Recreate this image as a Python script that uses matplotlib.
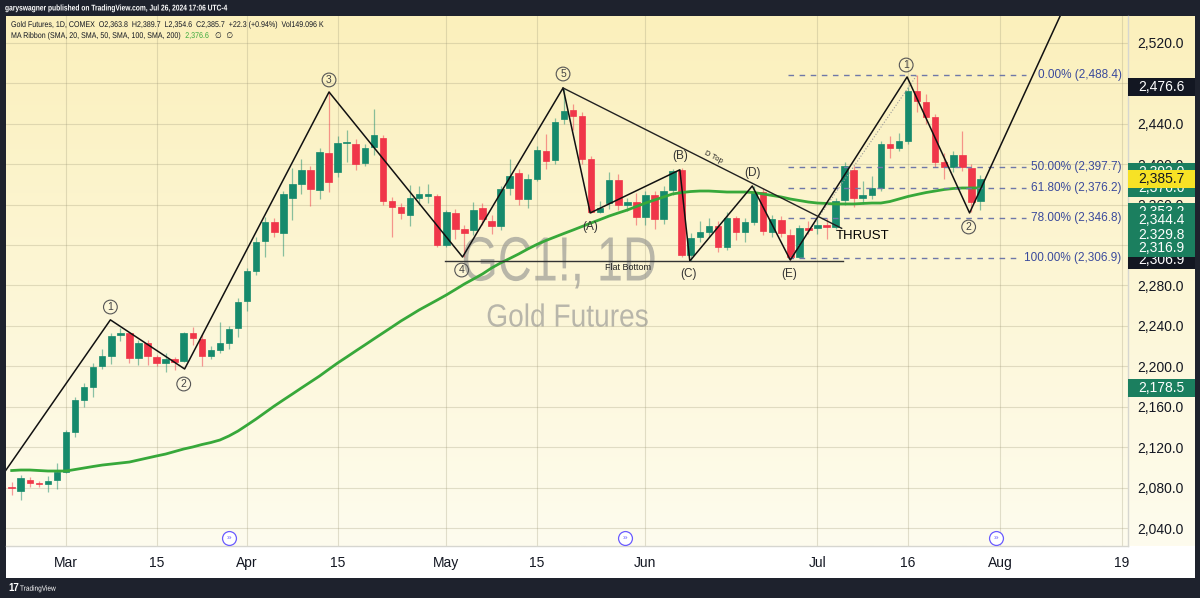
import numpy as np
import pandas as pd
import matplotlib
matplotlib.use("Agg")
import matplotlib.pyplot as plt
import matplotlib.transforms as mtransforms
from matplotlib.patches import Rectangle, PathPatch
from matplotlib.textpath import TextPath
from matplotlib.font_manager import FontProperties

plt.rcParams['font.family'] = ['Liberation Sans', 'DejaVu Sans']

# trading days of the front month contract, Feb 22 .. Jul 26 2024
holidays = ['2024-03-29', '2024-05-27', '2024-06-19', '2024-07-04']
days = pd.bdate_range('2024-02-22', '2024-07-26')
days = days[~days.isin(pd.to_datetime(holidays))]

opens = [2080.5, 2077.0, 2087.2, 2085.0, 2083.5, 2087.5,
         2095.7, 2135.3, 2166.7, 2179.2, 2200.3, 2210.5, 2231.3, 2232.7, 2207.9, 2222.8,
         2208.9, 2203.6, 2207.3, 2205.3, 2233.3, 2226.7, 2210.5, 2216.6, 2222.7, 2237.7,
         2265.0, 2294.7, 2324.0, 2342.5, 2331.7, 2366.3, 2380.4, 2394.3, 2374.5, 2411.4,
         2392.0, 2421.0, 2420.0, 2400.9, 2416.7, 2425.7, 2364.0, 2357.4, 2349.8, 2367.0,
         2369.0, 2368.9, 2320.4, 2352.0, 2335.6, 2334.9, 2357.0, 2343.8, 2338.9, 2376.8,
         2391.0, 2365.3, 2385.4, 2413.4, 2404.2, 2444.8, 2453.7, 2447.8, 2405.3, 2353.0,
         2361.3, 2384.4, 2360.0, 2362.6, 2347.5, 2369.6, 2345.5, 2374.5, 2394.3, 2310.2,
         2328.3, 2333.3, 2339.2, 2318.4, 2347.1, 2332.7, 2343.2, 2372.2, 2332.7, 2344.8,
         2330.0, 2308.5, 2336.6, 2336.9, 2340.0, 2338.2, 2364.6, 2394.3, 2366.3, 2369.6,
         2376.8, 2419.7, 2416.4, 2423.3, 2472.5, 2461.3, 2446.5, 2402.5, 2397.6, 2409.0,
         2396.6, 2363.8]
highs = [2085.8, 2092.0, 2090.0, 2087.0, 2091.0, 2104.0,
         2137.0, 2170.0, 2184.0, 2203.0, 2217.0, 2233.0, 2238.0, 2234.0, 2226.0, 2226.0,
         2211.0, 2213.0, 2209.0, 2234.0, 2239.0, 2232.0, 2220.0, 2244.0, 2240.0, 2268.0,
         2297.0, 2328.0, 2348.0, 2347.0, 2374.0, 2396.0, 2405.0, 2398.0, 2416.0, 2472.0,
         2428.0, 2434.0, 2425.0, 2420.0, 2455.0, 2429.0, 2368.0, 2362.0, 2379.0, 2378.0,
         2380.0, 2371.0, 2355.0, 2356.0, 2340.0, 2363.0, 2362.0, 2350.0, 2378.0, 2405.0,
         2395.0, 2390.0, 2418.0, 2430.0, 2446.0, 2475.5, 2460.0, 2452.0, 2408.0, 2364.0,
         2392.0, 2390.0, 2367.0, 2372.0, 2374.0, 2374.0, 2378.0, 2395.0, 2396.0, 2332.0,
         2344.0, 2347.0, 2344.0, 2353.0, 2349.0, 2347.0, 2378.4, 2376.0, 2350.0, 2349.0,
         2336.0, 2340.0, 2344.0, 2346.0, 2347.0, 2367.0, 2402.0, 2398.0, 2383.0, 2388.0,
         2423.0, 2428.0, 2431.0, 2476.0, 2488.4, 2470.0, 2450.0, 2411.0, 2413.0, 2433.0,
         2400.0, 2389.7]
lows = [2072.7, 2068.0, 2081.0, 2081.0, 2076.0, 2079.0,
        2094.0, 2130.0, 2160.0, 2170.0, 2197.0, 2202.0, 2225.0, 2203.0, 2201.0, 2201.0,
        2200.0, 2194.0, 2196.0, 2204.0, 2221.0, 2200.0, 2207.0, 2213.0, 2217.0, 2229.0,
        2255.0, 2290.0, 2308.0, 2328.0, 2309.0, 2345.0, 2371.0, 2359.0, 2366.0, 2373.0,
        2387.0, 2402.0, 2394.0, 2398.0, 2409.0, 2360.0, 2328.0, 2346.0, 2339.0, 2360.0,
        2362.0, 2318.0, 2318.0, 2326.0, 2308.0, 2330.0, 2340.0, 2331.0, 2335.0, 2370.0,
        2360.0, 2357.0, 2383.0, 2395.0, 2400.0, 2440.0, 2434.0, 2400.0, 2352.0, 2351.5,
        2356.0, 2355.0, 2354.0, 2340.0, 2340.0, 2336.0, 2341.0, 2370.0, 2308.0, 2304.0,
        2323.0, 2328.0, 2313.0, 2315.0, 2325.0, 2323.0, 2340.0, 2330.0, 2328.0, 2328.0,
        2305.0, 2307.0, 2331.0, 2331.0, 2326.0, 2336.0, 2360.0, 2358.0, 2361.0, 2366.0,
        2374.0, 2406.0, 2413.0, 2420.0, 2452.0, 2440.0, 2397.0, 2385.0, 2392.0, 2393.0,
        2353.0, 2354.6]
closes = [2079.3, 2089.2, 2084.5, 2083.2, 2086.8, 2095.7,
          2135.3, 2166.7, 2179.2, 2199.6, 2210.5, 2230.0, 2232.6, 2207.9, 2223.4, 2210.2,
          2203.6, 2207.0, 2204.6, 2233.3, 2227.7, 2210.5, 2216.0, 2223.4, 2236.7, 2264.0,
          2294.0, 2322.7, 2342.5, 2333.2, 2370.6, 2380.4, 2394.3, 2375.2, 2412.4, 2382.7,
          2421.3, 2421.7, 2400.0, 2416.4, 2429.0, 2364.0, 2358.0, 2351.5, 2366.9, 2371.0,
          2370.0, 2320.0, 2352.5, 2336.2, 2332.3, 2355.0, 2345.8, 2338.9, 2375.2, 2388.6,
          2365.3, 2385.4, 2414.0, 2403.5, 2442.0, 2452.7, 2448.0, 2405.3, 2353.0, 2357.0,
          2384.4, 2359.7, 2362.6, 2347.5, 2369.6, 2345.5, 2373.5, 2393.6, 2310.2, 2326.7,
          2332.7, 2339.2, 2318.4, 2347.1, 2332.7, 2342.5, 2371.9, 2334.3, 2345.8, 2331.7,
          2308.5, 2336.6, 2335.2, 2340.0, 2338.2, 2363.6, 2398.3, 2366.3, 2369.6, 2376.8,
          2419.7, 2415.8, 2423.3, 2472.8, 2462.6, 2447.0, 2402.5, 2397.6, 2409.0, 2397.0,
          2363.0, 2385.7]
ma20 = [2096.9, 2097.4, 2097.4, 2096.9, 2096.4, 2096.4,
        2096.4, 2097.9, 2099.4, 2100.9, 2102.3, 2103.3, 2104.3, 2105.3, 2107.3, 2109.3,
        2111.3, 2113.2, 2115.7, 2118.2, 2120.2, 2122.6, 2124.6, 2127.1, 2131.1, 2136.0,
        2141.9, 2147.9, 2154.3, 2160.7, 2166.7, 2172.6, 2178.6, 2184.5, 2190.4, 2196.9,
        2203.3, 2209.2, 2215.2, 2221.1, 2227.1, 2233.0, 2238.9, 2244.9, 2250.3, 2255.8,
        2260.7, 2265.6, 2270.6, 2276.0, 2281.5, 2286.4, 2291.4, 2297.3, 2302.3, 2306.7,
        2311.2, 2316.1, 2320.6, 2324.5, 2328.0, 2331.5, 2334.9, 2338.4, 2341.9, 2345.3,
        2348.8, 2351.8, 2354.7, 2358.2, 2361.6, 2364.6, 2367.6, 2370.6, 2372.0, 2373.0,
        2373.5, 2373.5, 2373.0, 2372.5, 2372.5, 2372.5, 2372.0, 2370.6, 2369.1, 2367.6,
        2365.6, 2364.1, 2362.6, 2361.6, 2361.2, 2360.7, 2360.7, 2360.7, 2361.2, 2361.6,
        2361.6, 2363.1, 2365.6, 2368.1, 2370.1, 2372.0, 2373.5, 2375.0, 2376.0, 2376.5,
        2376.5, 2376.6]

# hand drawn wave count (bar offset from Mar 1, price)
wave_x = [-7.0, 4.9, 13.1, 29.05, 43.8, 54.9, 57.9, 67.8, 68.9, 75.8, 80.0, 92.9, 99.8, 111.0]
wave_y = [2092.6, 2246.0, 2197.4, 2471.5, 2308.2, 2475.5, 2351.8, 2394.5, 2304.2, 2378.5,
          2305.2, 2486.4, 2351.8, 2570.0]
wave_labels = [('1', 4.9, 2258.7), ('2', 13.0, 2182.5), ('3', 29.05, 2483.4), ('4', 43.7, 2295.3),
               ('5', 54.9, 2489.3), ('1', 92.8, 2498.2), ('2', 99.7, 2337.9)]
abc_labels = [('(A)', 57.9, 2337.9), ('(B)', 67.8, 2408.2), ('(C)', 68.8, 2291.4),
              ('(D)', 75.8, 2391.3), ('(E)', 79.9, 2291.4)]
dtop_x = [54.9, 85.67]
dtop_y = [2475.5, 2336.6]
flat_x = [41.9, 85.8]
flat_price = 2304.5
fib_hi, fib_lo = 2488.4, 2306.9
fib_ratios = [0.0, 0.5, 0.618, 0.78, 1.0]

price_ticks = list(range(2040, 2521, 40))
time_ticks = [0, 10, 20, 30, 42, 52, 64, 83, 93, 103.2, 116.6]
time_labels = ['Mar', '15', 'Apr', '15', 'May', '15', 'Jun', 'Jul', '16', 'Aug', '19']
event_x = [18.0, 61.7, 102.7]

# right axis price labels: price, text, face, text colour (drawn in this order)
axis_boxes = [(2476.6, '2,476.6', '#131722', 'white'),
              (2392.0, '2,392.0', '#1b7f5f', 'white'),
              (2376.6, '2,376.6', '#1b7f5f', 'white'),
              (2385.7, '2,385.7', '#f7e225', '#131722'),
              (2353.2, '2,353.2', '#1b7f5f', 'white'),
              (2329.8, '2,329.8', '#1b7f5f', 'white'),
              (2305.0, '2,306.9', '#131722', 'white'),
              (2344.4, '2,344.4', '#1b7f5f', 'white'),
              (2316.9, '2,316.9', '#1b7f5f', 'white'),
              (2178.5, '2,178.5', '#1b7f5f', 'white')]

x0 = list(days).index(pd.Timestamp('2024-03-01'))
x = np.arange(len(days)) - x0
o = np.array(opens)
h = np.array(highs)
l = np.array(lows)
c = np.array(closes)

W, H = 1200, 598
fig = plt.figure(figsize=(12, 5.98), dpi=100, facecolor='#1e222d')


def squeezed(px, py, s, size, color, sx, ha='left', alpha=1.0, weight='normal', zorder=5):
    # text drawn as a path so it can be squeezed horizontally (TradingView uses a narrow font)
    tp = TextPath((0, 0), s, size=size, prop=FontProperties(family='Liberation Sans', weight=weight))
    k = 100 / 72
    w = tp.get_extents().x1 * sx * k
    left = px - w / 2 if ha == 'center' else px
    base = H - py - 0.36 * size * k
    tr = mtransforms.Affine2D().scale(sx * k, k).translate(left, base)
    fig.add_artist(PathPatch(tp, transform=tr, facecolor=color, edgecolor='none', alpha=alpha,
                             zorder=zorder))
    return left + w


# yellow gradient behind chart and price scale
bg = fig.add_axes([6 / W, 52 / H, 1189 / W, 530 / H])
top = np.array([251, 240, 188]) / 255
bot = np.array([254, 252, 238]) / 255
t = np.linspace(0, 1, 256)[:, None, None]
bg.imshow(top * (1 - t) + bot * t, aspect='auto', extent=[0, 1, 0, 1])
bg.set_axis_off()
bg.set_zorder(-3)
fig.patches.append(Rectangle((6 / W, 20 / H), 1189 / W, 32 / H, transform=fig.transFigure,
                             facecolor='white', edgecolor='none', zorder=-4))

# watermark
squeezed(558, 258, 'GC1!, 1D', 45, '#8c8c8c', 0.75, ha='center', alpha=0.6, zorder=-1)
squeezed(567, 315, 'Gold Futures', 23, '#8c8c8c', 0.88, ha='center', alpha=0.6, zorder=-1)

ax = fig.add_axes([6 / W, 52 / H, 1122 / W, 530 / H])
ax.set_facecolor('none')
ax.set_xlim(-6.63, 117.3)
ax.set_ylim(2022.2, 2546.7)

ax.set_yticks(price_ticks)
ax.set_yticklabels([f'{v:,.1f}' for v in price_ticks])
ax.yaxis.tick_right()
ax.set_xticks(time_ticks)
ax.set_xticklabels(time_labels)
ax.tick_params(axis='y', length=0, pad=6.5, labelsize=10, labelcolor='#131722')
ax.tick_params(axis='x', length=0, pad=7, labelsize=10, labelcolor='#131722')
ax.grid(True, color='#a09a7a', alpha=0.3, lw=0.8)
for s in ['left', 'top']:
    ax.spines[s].set_visible(False)
for s in ['right', 'bottom']:
    ax.spines[s].set_color('#d6d6d0')
    ax.spines[s].set_linewidth(1)

# candles
up = c >= o
cols = np.where(up, '#168a6c', '#f03649')
ax.vlines(x, l, h, colors=cols, lw=0.9, alpha=0.5, zorder=3)
body = np.maximum(np.abs(c - o), 1.2)
ax.bar(x, body, bottom=np.minimum(o, c), width=0.72, color=cols, edgecolor=cols, lw=0.5, zorder=4)

ax.plot(x, ma20, color='#37a83a', lw=2, zorder=5)

# drawings
ax.plot(wave_x, wave_y, color='#111111', lw=1.1, zorder=6)
ax.plot(dtop_x, dtop_y, color='#222222', lw=1.0, zorder=6)
ax.plot(flat_x, [flat_price, flat_price], color='#333333', lw=1.0, zorder=6)
ax.text(62.1, 2298.3, 'Flat Bottom', ha='center', va='center', fontsize=6.5, color='#222', zorder=7)
ax.text(71.46, 2407.2, 'D Top', ha='center', va='center', fontsize=5.5, rotation=-27,
        color='#222', zorder=7)
ax.text(85.0, 2329.0, 'THRUST', ha='left', va='center', fontsize=9.5, color='black', zorder=7)

for txt, bx, by in wave_labels:
    ax.text(bx, by, txt, ha='center', va='center', fontsize=7.5, color='#444', zorder=7,
            bbox=dict(boxstyle='circle,pad=0.18', fc='none', ec='#555', lw=0.8))
for txt, bx, by in abc_labels:
    ax.text(bx, by, txt, ha='center', va='center', fontsize=8.5, color='#333', zorder=7)

# fibonacci retracement
ax.plot([80.0, 94.0], [fib_lo, fib_hi], color='#999999', lw=0.8, ls=':', zorder=5)
for r in fib_ratios:
    lvl = fib_hi - r * (fib_hi - fib_lo)
    ax.plot([79.7, 106.0 if r < 1 else 105.0], [lvl, lvl], color='#6f78a8', lw=1.0,
            ls=(0, (4, 4)), zorder=5)
    ax.text(116.6, lvl, f'{r * 100:.2f}% ({lvl:,.1f})', ha='right', va='center',
            fontsize=8.5, color='#3a4a9c', zorder=7)

# contract roll markers
for ex in event_x:
    ax.plot(ex, 2030, 'o', ms=10, mfc='white', mec='#6b5cff', mew=0.9, zorder=8, clip_on=False)
    ax.text(ex, 2030, '»', ha='center', va='center', fontsize=6, color='#6b5cff', zorder=9)

# price scale labels
trans = mtransforms.blended_transform_factory(ax.transAxes, ax.transData)
bw = 67 / 1122
for k, (p, txt, fc, tc) in enumerate(axis_boxes):
    ax.add_patch(Rectangle((1.0, p - 8.9), bw, 17.8, transform=trans, facecolor=fc,
                           edgecolor='none', clip_on=False, zorder=10 + 2 * k))
    ax.text(1.0 + bw / 2, p, txt, transform=trans, ha='center', va='center', fontsize=10,
            color=tc, clip_on=False, zorder=11 + 2 * k)

# header legend and publisher line
squeezed(5, 7.5, 'garyswagner published on TradingView.com, Jul 26, 2024 17:06 UTC-4',
         6.0, 'white', 0.8, weight='bold', zorder=5)
squeezed(11, 24, 'Gold Futures, 1D, COMEX  O2,363.8  H2,389.7  L2,354.6  C2,385.7  +22.3 (+0.94%)  Vol149.096 K',
         6.0, '#131722', 0.85, zorder=5)
end = squeezed(11, 35, 'MA Ribbon (SMA, 20, SMA, 50, SMA, 100, SMA, 200)', 6.0, '#131722', 0.85, zorder=5)
end = squeezed(end + 5, 35, '2,376.6', 6.0, '#37a83a', 0.85, zorder=5)
fig.text((end + 6) / W, 1 - 35 / H, '\u2205  \u2205', color='#131722', fontsize=5.5,
         family='DejaVu Sans', va='center')

fig.text(8 / W, 1 - 588 / H, '17', color='white', fontsize=7, weight='bold', va='center')
squeezed(20, 588, 'TradingView', 5.5, 'white', 0.85, zorder=5)

fig.savefig('out.png', dpi=100, facecolor=fig.get_facecolor())
